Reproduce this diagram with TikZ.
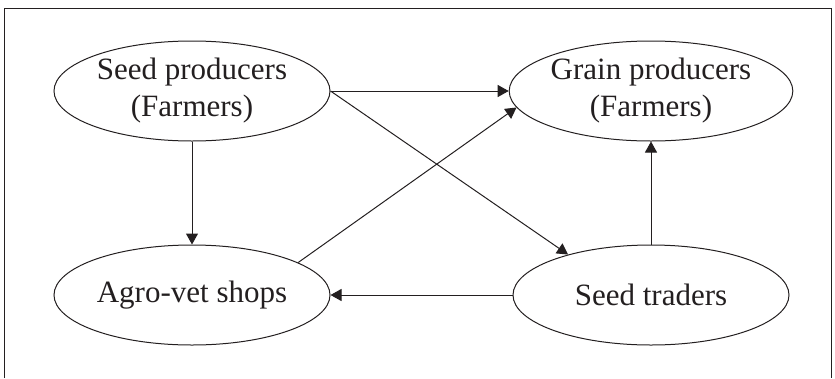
\documentclass[tikz,border=0pt]{standalone}
\usepackage{fontspec}
\setmainfont{Liberation Serif}
\usetikzlibrary{shapes.geometric,arrows.meta}
\definecolor{ink}{RGB}{35,31,32}
\begin{document}
\begin{tikzpicture}[x=1pt,y=1pt,color=ink,line width=1pt,
  actor/.style={ellipse,draw,inner sep=0pt,minimum width=276pt,minimum height=100pt,align=center,font=\fontsize{31}{37}\selectfont},
  flow/.style={-{Triangle[length=11pt,width=12pt]}}]
\useasboundingbox (0,0) rectangle (835,-378);
\draw (4,-378) -- (4,-8) -- (831,-8) -- (831,-378);
\node[actor] (sp) at (192,-91) {Seed producers\\(Farmers)};
\node[actor] (gp) at (651,-91) {Grain producers\\(Farmers)};
\node[actor] (av) at (192,-295) {Agro-vet shops};
\node[actor] (st) at (651,-295) {Seed traders};
\draw[flow] (sp.south) -- (av.north);
\draw[flow] (sp.east) -- (gp.west);
\draw[flow] (sp.east) -- (st.154);
\draw[flow] (av.17) -- (gp.187);
\draw[flow] (st.west) -- (av.east);
\draw[flow] (st.north) -- (gp.south);
\end{tikzpicture}
\end{document}
